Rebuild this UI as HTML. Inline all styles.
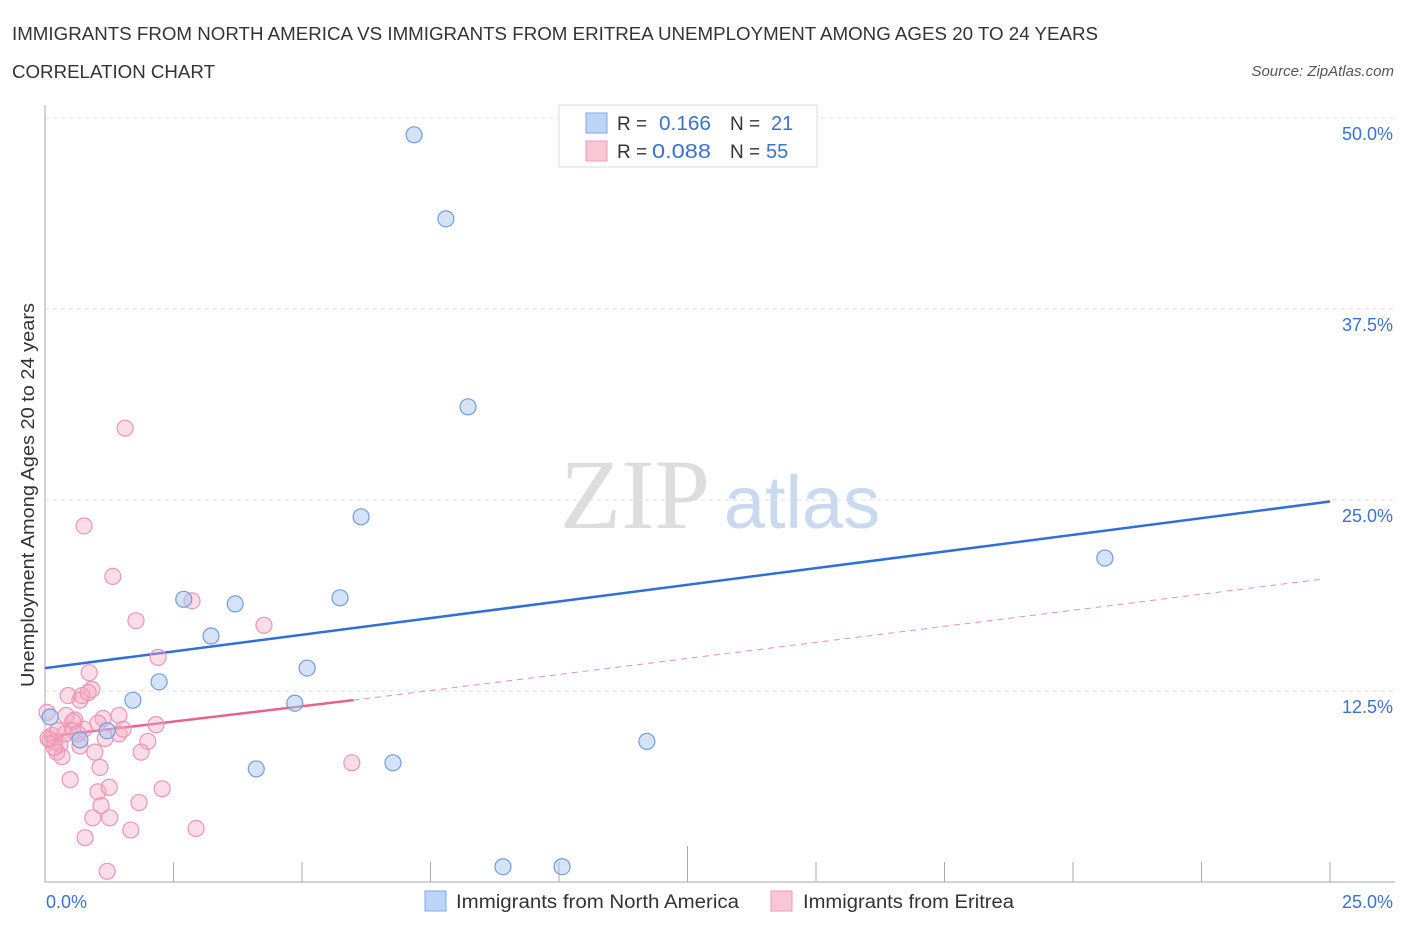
<!DOCTYPE html>
<html><head><meta charset="utf-8">
<style>
body{margin:0;background:#fff;font-family:"Liberation Sans",sans-serif;}
</style></head>
<body>
<svg id="chart" width="1406" height="930" viewBox="0 0 1406 930" font-family="Liberation Sans, sans-serif">
<text x="12" y="40" font-size="18" fill="#333" textLength="1086" lengthAdjust="spacingAndGlyphs">IMMIGRANTS FROM NORTH AMERICA VS IMMIGRANTS FROM ERITREA UNEMPLOYMENT AMONG AGES 20 TO 24 YEARS</text>
<text x="12" y="78" font-size="18" fill="#333" textLength="203" lengthAdjust="spacingAndGlyphs">CORRELATION CHART</text>
<text x="1394" y="76" font-size="15" fill="#555" font-style="italic" text-anchor="end">Source: ZipAtlas.com</text>
<text x="635" y="528" font-size="100" fill="#ddd" style="font-family:'Liberation Serif',serif" text-anchor="middle">ZIP</text>
<text x="802" y="528" font-size="74" fill="#c8d9f0" text-anchor="middle">atlas</text>
<g id="grid"></g>
<g id="axes"></g>
<g id="lines"></g>
<g id="points"></g>
<text transform="translate(34,495) rotate(-90)" font-size="18" fill="#333" text-anchor="middle" textLength="384" lengthAdjust="spacingAndGlyphs">Unemployment Among Ages 20 to 24 years</text>
<text x="46" y="908" font-size="18" fill="#3a72d0">0.0%</text>
<text x="1393" y="908" font-size="18" fill="#3a72d0" text-anchor="end">25.0%</text>
<g>
<rect x="559" y="105" width="258" height="62" fill="#fff" stroke="#ddd"/>
<rect x="586" y="113" width="21" height="20" fill="#bcd4f5" stroke="#7ea8e6"/>
<rect x="586" y="141" width="21" height="20" fill="#f9c6d6" stroke="#ee9ab6"/>
<text x="617" y="130" font-size="19" fill="#333">R = </text>
<text x="659" y="130" font-size="20" fill="#3a72d0" textLength="52" lengthAdjust="spacingAndGlyphs">0.166</text>
<text x="730" y="130" font-size="19" fill="#333">N = </text>
<text x="771" y="130" font-size="20" fill="#3a72d0">21</text>
<text x="617" y="158" font-size="19" fill="#333">R = </text>
<text x="652" y="158" font-size="20" fill="#3a72d0" textLength="59" lengthAdjust="spacingAndGlyphs">0.088</text>
<text x="730" y="158" font-size="19" fill="#333">N = </text>
<text x="766" y="158" font-size="20" fill="#3a72d0">55</text>
</g>
<g>
<rect x="425" y="891" width="21" height="20" fill="#bcd4f5" stroke="#7ea8e6"/>
<text x="456" y="908" font-size="19" fill="#333" textLength="283" lengthAdjust="spacingAndGlyphs">Immigrants from North America</text>
<rect x="771" y="891" width="21" height="20" fill="#f9c6d6" stroke="#ee9ab6"/>
<text x="803" y="908" font-size="19" fill="#333" textLength="211" lengthAdjust="spacingAndGlyphs">Immigrants from Eritrea</text>
</g>
</svg>
<script>
const yTicks=[12.5,25,37.5,50];
const yTickLabels=["12.5%","25.0%","37.5%","50.0%"];
const xTicks=[0,2.5,5,7.5,10,12.5,15,17.5,20,22.5,25];
const blueX=[7.18,7.80,8.23,6.15,20.62,2.70,3.70,5.74,3.23,5.10,2.22,1.71,4.86,1.21,0.68,0.10,11.71,4.11,6.77,8.91,10.06];
const blueY=[48.9,43.4,31.1,23.9,21.2,18.5,18.2,18.6,16.1,14.0,13.1,11.9,11.7,9.9,9.3,10.8,9.2,7.4,7.8,1.0,1.0];
const pinkX=[1.56,0.76,1.32,1.77,2.86,4.26,2.20,0.86,0.91,0.45,0.68,0.72,0.84,0.58,0.04,1.13,1.44,2.16,0.41,0.54,0.14,0.10,0.19,0.29,0.23,0.33,0.68,0.97,0.76,1.17,1.44,2.00,1.87,1.07,0.49,1.03,1.25,1.09,2.28,1.83,0.93,1.26,1.67,0.78,2.94,1.21,5.97,0.18,0.06,1.52,0.39,1.03,0.54,0.25,0.64];
const pinkY=[29.7,23.3,20.0,17.1,18.4,16.8,14.7,13.7,12.6,12.2,11.9,12.2,12.4,10.6,11.1,10.7,10.9,10.3,10.9,10.5,9.6,9.3,9.2,9.0,8.5,8.2,8.9,8.5,10.0,9.4,9.7,9.2,8.5,7.5,6.7,5.9,6.2,5.0,6.1,5.2,4.2,4.2,3.4,2.9,3.5,0.7,7.8,8.8,9.4,10.0,9.7,10.4,9.9,9.9,9.7];
const blueTrend=[14.0,24.9];
const pinkTrendSolid=[0,6,9.5,11.9];
const pinkTrendDash=[6,24.8,11.9,19.8];

const X0=45,X1=1330,Y0=882,YS=191.0/12.5;
const sx=v=>X0+(X1-X0)*v/25;
const sy=v=>Y0-v*YS;
const NS="http://www.w3.org/2000/svg";
function mk(tag,attrs,parent){const e=document.createElementNS(NS,tag);for(const k in attrs)e.setAttribute(k,attrs[k]);parent.appendChild(e);return e;}
const grid=document.getElementById('grid'),axes=document.getElementById('axes'),lines=document.getElementById('lines'),pts=document.getElementById('points');
yTicks.forEach((t,i)=>{
  const l=mk('line',{x1:X0,x2:1395,y1:sy(t),y2:sy(t),stroke:'#ddd','stroke-dasharray':'4,4'},grid);
  
  
  const tx=mk('text',{x:1393,y:sy(t)+22,'font-size':18,fill:'#3a72d0','text-anchor':'end'},grid);
  tx.textContent=yTickLabels[i];
  
  
});
const ya=mk('line',{x1:X0,x2:X0,y1:105,y2:Y0,stroke:'#aaa'},axes);


const xa=mk('line',{x1:X0,x2:X1+65,y1:Y0,y2:Y0,stroke:'#aaa'},axes);


xTicks.forEach((t,i)=>{
  const tk=mk('line',{x1:sx(t),x2:sx(t),y1:Y0,y2:(i===5?Y0-36:Y0-20),stroke:'#aaa'},axes);
  
  
});
const bl=mk('line',{x1:sx(0),y1:sy(blueTrend[0]),x2:sx(25),y2:sy(blueTrend[1]),stroke:'#2f6fd6','stroke-width':2.5},lines);


const pd=mk('line',{x1:sx(pinkTrendDash[0]),y1:sy(pinkTrendDash[2]),x2:sx(pinkTrendDash[1]),y2:sy(pinkTrendDash[3]),stroke:'#eb8fb0','stroke-width':1,'stroke-dasharray':'6,5'},lines);


const ps=mk('line',{x1:sx(pinkTrendSolid[0]),y1:sy(pinkTrendSolid[2]),x2:sx(pinkTrendSolid[1]),y2:sy(pinkTrendSolid[3]),stroke:'#e8628f','stroke-width':2.5},lines);


pinkX.forEach((x,i)=>{
  const c=mk('circle',{cx:sx(x),cy:sy(pinkY[i]),r:8,fill:'rgba(246,170,196,0.4)',stroke:'#ef94b4','stroke-width':1.2},pts);
  
  
});
blueX.forEach((x,i)=>{
  const c=mk('circle',{cx:sx(x),cy:sy(blueY[i]),r:8,fill:'rgba(170,200,240,0.5)',stroke:'#6f9ee0','stroke-width':1.2},pts);
  
  
});
</script>
</body></html>
